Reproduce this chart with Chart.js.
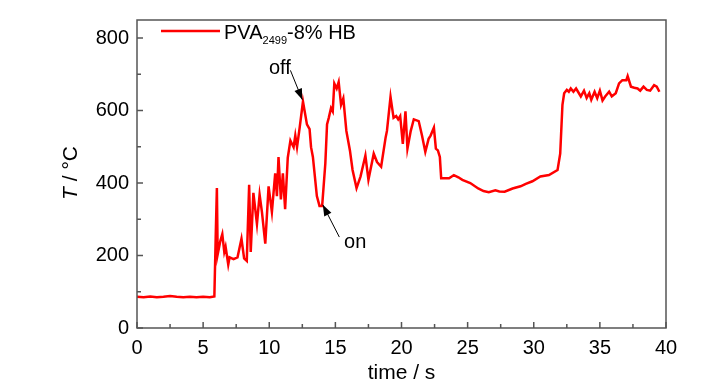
<!DOCTYPE html>
<html>
<head>
<script src="https://cdn.jsdelivr.net/npm/chart.js"></script>
<style>
  body { margin: 0; background: #fff; }
  #c { display: block; }
</style>
</head>
<body>
<canvas id="c" width="728" height="390"></canvas>
<script>
// time (s) and temperature (°C)
var times = [0, 0.5, 1, 1.5, 2, 2.5, 3, 3.5, 4, 4.5, 5, 5.5, 5.85,
  5.95, 6.04, 6.1, 6.3, 6.45, 6.6, 6.7, 6.9, 7.0, 7.3, 7.6, 7.9, 8.1, 8.3, 8.48, 8.6, 8.8,
  9.07, 9.27, 9.45, 9.7, 9.95, 10.2, 10.45, 10.58, 10.7, 10.88, 11.03, 11.2, 11.4, 11.6,
  11.84, 11.97, 12.1, 12.3, 12.55, 12.85, 13.05, 13.16, 13.3, 13.6, 13.8, 14.0, 14.24,
  14.37, 14.5, 14.67, 14.8, 14.92, 15.1, 15.25, 15.43, 15.6, 15.83, 16.1, 16.3, 16.6,
  16.9, 17.27, 17.5, 17.9, 18.15, 18.46, 18.8, 18.9, 19.17, 19.4, 19.6, 19.75, 19.9,
  20.1, 20.3, 20.45, 20.7, 20.93, 21.3, 21.55, 21.8, 22.05, 22.2, 22.45, 22.6, 22.75,
  22.9, 23.0, 23.3, 23.6, 23.96, 24.3, 24.6, 25.2, 25.8, 26.2, 26.6, 27.1, 27.4, 27.8,
  28.4, 29.0, 29.4, 29.9, 30.5, 31.15, 31.8, 32.0, 32.17, 32.3, 32.5, 32.65, 32.8, 33.0,
  33.2, 33.56, 33.8, 34.0, 34.2, 34.35, 34.6, 34.8, 35.0, 35.2, 35.4, 35.7, 35.9, 36.2,
  36.45, 36.7, 37.0, 37.1, 37.35, 37.6, 37.85, 38.05, 38.3, 38.55, 38.8, 39.1, 39.3, 39.5];
var temps = [86, 85, 87, 85, 86, 88, 86, 85, 86, 85, 86, 85, 87,
  250, 386, 203, 240, 259, 210, 224, 175, 195, 190, 195, 246, 192, 185, 395, 210, 373,
  287, 368, 319, 233, 391, 320, 427, 364, 472, 355, 427, 328, 470, 517,
  499, 531, 499, 553, 625, 562, 549, 499, 472, 364, 337, 337, 454,
  562, 580, 607, 598, 675, 661, 679, 616, 634, 544, 490, 436, 386,
  418, 476, 409, 481, 458, 445, 526, 544, 638, 580, 585, 576, 585,
  508, 598, 495, 544, 576, 571, 531, 486, 522, 531, 553, 495, 490,
  472, 413, 413, 413, 422, 416, 409, 400, 385, 378, 375, 380, 377, 376,
  385, 391, 398, 405, 418, 422, 436, 481, 616, 648, 657, 652, 661, 652,
  661, 639, 655, 635, 648, 630, 652, 634, 655, 628, 639, 652, 639, 648,
  675, 684, 684, 695, 666, 663, 661, 655, 666, 657, 655, 670, 666, 652];

var xTicks = [0, 5, 10, 15, 20, 25, 30, 35, 40];
var yTicks = [0, 200, 400, 600, 800];

var points = times.map(function(t, i) { return { x: t, y: temps[i] }; });
var font = '"Liberation Sans", Arial, sans-serif';

var framePlugin = {
  id: 'frame',
  afterDraw: function(chart) {
    var ctx = chart.ctx, a = chart.chartArea;
    var xs = chart.scales.x, ys = chart.scales.y;
    ctx.save();
    ctx.strokeStyle = '#555';
    ctx.lineWidth = 1.5;
    ctx.strokeRect(a.left, a.top, a.right - a.left, a.bottom - a.top);
    ctx.beginPath();
    // inward ticks, major and minor
    for (var v = 0; v <= 40; v += 2.5) {
      var px = xs.getPixelForValue(v);
      var len = (v % 5 === 0) ? 6 : 4;
      ctx.moveTo(px, a.bottom); ctx.lineTo(px, a.bottom - len);
    }
    for (var w = 0; w <= 800; w += 100) {
      var py = ys.getPixelForValue(w);
      var l2 = (w % 200 === 0) ? 6 : 4;
      ctx.moveTo(a.left, py); ctx.lineTo(a.left + l2, py);
    }
    ctx.stroke();

    // legend
    ctx.strokeStyle = '#ff0000';
    ctx.lineWidth = 2.5;
    ctx.beginPath();
    ctx.moveTo(161, 31); ctx.lineTo(220, 31);
    ctx.stroke();
    ctx.fillStyle = '#000';
    ctx.textBaseline = 'alphabetic';
    ctx.font = '20px ' + font;
    var x0 = 224;
    ctx.fillText('PVA', x0, 39);
    x0 += ctx.measureText('PVA').width;
    ctx.font = '11px ' + font;
    ctx.fillText('2499', x0, 44);
    x0 += ctx.measureText('2499').width;
    ctx.font = '20px ' + font;
    ctx.fillText('-8% HB', x0, 39);

    // annotations
    function arrow(x1, y1, x2, y2) {
      ctx.strokeStyle = '#000';
      ctx.lineWidth = 1;
      ctx.beginPath();
      ctx.moveTo(x1, y1); ctx.lineTo(x2, y2);
      ctx.stroke();
      var ang = Math.atan2(y2 - y1, x2 - x1);
      var hl = 11, hw = 4;
      ctx.beginPath();
      ctx.moveTo(x2, y2);
      ctx.lineTo(x2 - hl * Math.cos(ang) + hw * Math.sin(ang), y2 - hl * Math.sin(ang) - hw * Math.cos(ang));
      ctx.lineTo(x2 - hl * Math.cos(ang) - hw * Math.sin(ang), y2 - hl * Math.sin(ang) + hw * Math.cos(ang));
      ctx.closePath();
      ctx.fillStyle = '#000';
      ctx.fill();
    }
    arrow(xs.getPixelForValue(11.6), ys.getPixelForValue(711), xs.getPixelForValue(12.5), ys.getPixelForValue(630));
    arrow(xs.getPixelForValue(15.3), ys.getPixelForValue(251), xs.getPixelForValue(14.05), ys.getPixelForValue(340));
    ctx.fillStyle = '#000';
    ctx.font = '20px ' + font;
    ctx.textAlign = 'center';
    ctx.textBaseline = 'middle';
    ctx.fillText('off', xs.getPixelForValue(10.8), ys.getPixelForValue(716));
    ctx.fillText('on', xs.getPixelForValue(16.5), ys.getPixelForValue(236));

    // y axis title with italic T
    ctx.save();
    ctx.translate(71, 173);
    ctx.rotate(-Math.PI / 2);
    ctx.textAlign = 'left';
    ctx.font = 'italic 21px ' + font;
    var tw = ctx.measureText('T').width;
    ctx.font = '21px ' + font;
    var rest = ' / \u00B0C';
    var total = tw + ctx.measureText(rest).width;
    ctx.font = 'italic 21px ' + font;
    ctx.fillText('T', -total / 2, 0);
    ctx.font = '21px ' + font;
    ctx.fillText(rest, -total / 2 + tw, 0);
    ctx.restore();
    ctx.restore();
  }
};

new Chart(document.getElementById('c').getContext('2d'), {
  type: 'line',
  data: {
    datasets: [{
      data: points,
      borderColor: '#ff0000',
      borderWidth: 2.5,
      pointRadius: 0,
      tension: 0,
      fill: false
    }]
  },
  options: {
    responsive: false,
    animation: false,
    layout: { padding: { left: 0, right: 62, top: 13, bottom: 0 } },
    plugins: { legend: { display: false }, tooltip: { enabled: false } },
    scales: {
      x: {
        type: 'linear',
        min: 0, max: 40,
        afterBuildTicks: function(s) { s.ticks = xTicks.map(function(v) { return { value: v }; }); },
        afterFit: function(s) { s.height = 62; },
        grid: { display: false, drawTicks: false },
        border: { display: false },
        ticks: { color: '#000', font: { family: font, size: 20 }, padding: 8, maxRotation: 0 },
        title: { display: true, text: 'time / s', color: '#000', font: { family: font, size: 21 }, padding: { top: 4 } }
      },
      y: {
        min: 0, max: 850,
        afterBuildTicks: function(s) { s.ticks = yTicks.map(function(v) { return { value: v }; }); },
        afterFit: function(s) { s.width = 137; },
        grid: { display: false, drawTicks: false },
        border: { display: false },
        ticks: { color: '#000', font: { family: font, size: 20 }, padding: 8 }
      }
    }
  },
  plugins: [framePlugin]
});
</script>
</body>
</html>
